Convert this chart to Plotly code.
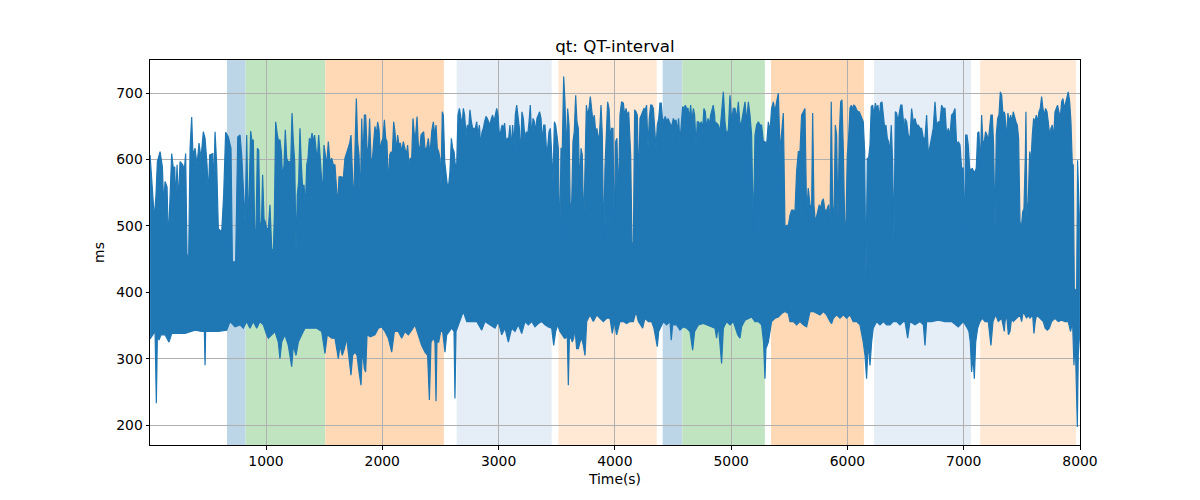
import plotly.graph_objects as go

# Upper edge of the QT-interval trace (time s, ms)
upper_edge = [
    (3,607),(23,554),(40,511),(54,547),(66,597),(89,612),(109,589),(120,532),(132,567),(149,559),(160,479),(169,516),
    (189,609),(203,587),(215,589),(223,537),(235,592),(246,537),(261,597),(284,592),(298,584),(309,609),(321,456),(335,456),
    (347,617),(361,664),(372,607),(390,617),(407,592),(424,625),(441,602),(461,642),(476,632),(493,592),(504,547),(516,607),
    (542,609),(550,557),(562,642),(576,592),(590,496),(619,491),(636,547),(653,641),(676,634),(699,617),(711,446),(739,446),
    (757,634),
    (777,637),(791,607),(820,506),(834,637),(848,496),(868,643),(880,627),(891,630),(903,486),(914,496),(926,617),(937,614),
    (948,506),(960,496),(971,577),(983,511),(994,506),(1006,496),(1020,496),(1034,532),(1049,466),(1063,461),(1072,516),
    (1083,657),(1098,637),(1109,627),(1120,630),(1132,612),(1143,572),(1155,592),(1166,645),(1178,602),(1189,597),(1201,597),
    (1212,592),(1224,670),(1235,627),(1247,597),(1258,461),(1269,547),(1281,567),(1292,647),(1304,592),(1315,557),(1327,562),
    (1338,526),(1350,592),(1361,602),(1373,632),(1384,627),(1396,640),(1407,627),(1418,637),(1430,617),(1441,597),(1453,637),
    (1464,607),(1476,577),(1487,547),(1499,622),(1510,607),(1522,592),(1536,627),(1550,597),(1565,602),(1579,592),
    (1593,592),(1616,532),(1628,574),(1651,574),(1665,572),(1679,602),(1697,612),(1708,617),(1720,625),(1731,637),(1742,567),
    (1754,529),(1765,612),(1777,692),(1788,627),(1800,607),(1811,537),(1823,662),(1834,597),(1846,667),(1857,667),(1869,617),
    (1880,612),(1891,662),(1903,602),(1914,597),(1926,627),(1937,650),(1949,637),(1960,657),(1972,645),(1983,612),(1995,627),
    (2006,632),(2018,660),(2029,632),(2040,627),(2052,562),(2064,607),(2075,612),(2086,607),(2098,657),(2109,642),(2121,612),
    (2132,637),(2144,622),(2155,625),(2167,612),(2181,627),(2195,617),(2207,607),(2218,622),(2230,592),(2241,602),(2253,602),
    (2264,662),(2276,637),(2287,637),(2299,665),(2310,622),(2321,612),(2333,637),(2344,640),(2356,642),(2367,617),(2382,617),
    (2396,632),
    (2410,607),(2425,642),(2439,657),(2451,637),(2462,652),(2473,617),(2485,612),(2496,602),(2505,562),(2516,672),(2525,667),
    (2537,597),(2548,577),(2559,562),(2571,562),(2582,582),(2594,632),(2605,617),(2617,612),(2628,592),(2640,592),(2651,667),
    (2663,677),(2674,662),(2686,652),(2697,677),(2708,667),(2720,637),(2731,652),(2743,647),(2754,675),(2766,657),(2777,647),
    (2789,647),(2800,647),(2812,657),(2823,637),(2835,652),(2846,622),(2858,642),(2869,647),(2880,657),(2892,665),(2903,662),
    (2915,657),(2926,652),(2938,662),(2949,667),(2961,657),(2972,667),(2984,677),(2995,667),(3007,637),(3018,642),(3030,652),
    (3041,647),(3052,655),(3064,627),(3075,632),(3087,632),(3098,652),(3110,617),(3121,652),(3133,622),(3144,667),(3156,682),
    (3167,662),(3179,647),(3190,607),(3201,672),(3213,662),(3224,637),
    (3227,632),(3239,642),(3250,637),(3262,657),(3273,682),(3285,632),(3296,662),(3308,657),(3319,642),(3330,662),(3342,667),
    (3353,672),(3365,662),(3376,627),(3388,652),(3399,652),(3411,617),(3422,617),(3434,642),(3445,647),(3457,607),(3468,567),
    (3480,657),(3491,652),(3502,637),(3514,617),(3525,466),(3537,617),(3548,617),(3560,725),(3571,687),(3583,607),(3594,677),
    (3606,652),(3617,516),(3629,537),(3640,627),(3651,642),(3663,697),(3674,657),(3686,647),(3697,557),(3709,617),(3720,607),
    (3732,496),(3743,567),(3755,682),(3766,667),(3778,677),(3789,695),(3801,670),(3812,657),(3823,667),(3835,642),(3846,647),
    (3858,627),(3869,642),(3881,682),(3892,637),(3904,471),(3915,587),(3927,642),(3938,687),(3950,677),(3961,632),(3972,647),
    (3984,647),(3995,481),(4007,627),(4018,632),(4030,537),(4041,637),
    (4044,667),(4058,687),(4073,685),(4084,667),(4096,677),(4107,667),(4119,672),(4136,607),(4147,476),(4159,471),(4170,675),
    (4182,672),(4193,667),(4205,562),(4216,662),(4228,667),(4239,672),(4250,677),(4262,675),(4273,682),(4285,617),(4296,662),
    (4308,682),(4319,682),(4331,677),(4342,652),(4354,617),(4365,652),(4377,662),(4388,685),(4399,685),(4411,657),(4422,662),
    (4434,665),(4445,657),(4457,662),(4468,657),(4480,652),(4491,652),(4503,662),(4514,657),(4526,660),(4537,642),(4548,662),
    (4560,627),(4571,652),(4583,680),(4594,677),(4606,682),(4617,677),(4629,677),(4640,662),(4652,682),(4663,657),(4675,677),
    (4686,667),(4698,622),(4709,657),(4720,657),(4732,652),(4743,657),(4755,647),(4766,677),(4778,672),(4789,647),(4801,662),
    (4812,652),(4824,667),(4835,677),(4846,682),(4858,667),
    (4861,657),(4875,655),(4890,652),(4904,642),(4918,667),(4933,702),(4947,657),(4961,637),(4976,645),(4990,697),(5004,657),
    (5019,677),(5033,677),(5047,662),(5062,687),(5076,652),(5090,657),(5105,675),(5119,687),(5133,657),(5148,687),(5162,667),
    (5176,637),(5191,491),(5205,637),(5219,652),(5234,657),(5248,652),(5262,652),(5277,627),(5291,627),(5305,622),(5320,657),
    (5334,642),(5348,677),(5363,687),(5377,672),(5391,687),(5406,700),(5420,612),(5434,647),(5449,670),(5463,496),(5477,501),
    (5492,501),(5506,516),(5520,524),(5535,524),(5549,521),(5563,582),(5578,612),(5592,612),(5606,667),(5620,672),(5635,677),
    (5649,516),(5663,557),
    (5678,532),(5692,526),(5701,670),(5712,532),(5724,506),(5735,516),(5747,526),(5758,532),(5770,526),(5781,537),(5793,541),
    (5804,526),(5816,521),(5827,526),(5838,532),(5850,496),(5861,687),(5873,532),(5884,506),(5896,652),(5907,637),(5919,506),
    (5930,637),(5942,687),(5953,690),(5965,612),(5976,506),(5987,501),(5999,607),(6010,632),(6022,677),(6033,682),(6045,677),
    (6056,682),(6068,680),(6079,675),(6091,672),(6102,672),(6114,667),(6125,662),(6136,657),(6148,612),(6159,421),(6171,602),
    (6182,602),(6194,622),(6205,680),(6217,682),(6228,667),(6240,685),(6251,677),(6262,682),(6274,662),(6285,685),(6297,687),
    (6309,667),(6320,647),(6331,652),(6343,632),(6354,627),(6366,612),(6377,652),(6389,592),(6400,476),(6412,672),(6423,670),
    (6435,657),(6446,670),(6458,682),(6469,682),(6480,657),(6492,637),
    (6495,662),(6509,657),(6523,637),(6538,632),(6552,677),(6566,657),(6581,662),(6595,652),(6609,652),(6624,647),(6638,647),
    (6653,632),(6667,632),(6681,667),(6696,607),(6710,622),(6724,637),(6738,647),(6753,687),(6767,652),(6782,657),(6796,657),
    (6810,682),(6824,677),(6839,677),(6853,637),(6867,647),(6882,637),(6896,667),(6910,670),(6925,677),(6939,622),(6953,627),
    (6968,622),(6982,587),(6996,587),(7005,476),(7017,637),(7028,637),(7039,622),(7051,587),(7062,584),(7074,587),(7085,582),
    (7097,582),(7108,587),(7120,640),(7131,642),(7143,587),(7154,667),(7165,627),(7177,627),(7188,642),(7200,637),(7211,627),
    (7223,647),(7234,667),(7246,667),(7257,622),(7269,496),(7280,637),(7292,662),(7303,667),(7315,702),(7326,697),(7338,667),
    (7349,672),
    (7355,667),(7369,632),(7380,670),(7392,657),(7404,667),(7415,657),(7426,672),(7438,662),(7449,657),(7461,652),(7472,632),
    (7484,506),(7495,496),(7507,521),(7518,526),(7530,607),(7535,672),(7544,511),(7555,537),(7567,612),(7578,597),(7590,637),
    (7601,662),(7613,657),(7624,667),(7636,657),(7647,672),(7658,677),(7670,695),(7681,677),(7693,667),(7704,677),(7716,672),
    (7727,657),(7739,637),(7750,647),(7762,652),(7773,632),(7785,672),(7796,677),(7807,682),(7819,672),(7830,662),(7842,687),
    (7853,692),(7865,677),(7876,687),(7888,692),(7899,702),(7911,687),(7922,657),(7934,592),(7942,592),(7951,406),(7971,401),
    (7979,599),(7988,516),(7994,516),
]

# Lower edge of the trace (time s, ms)
lower_edge = [
    (3,330),(29,336),(46,341),(57,233),(66,336),(80,328),(97,336),(132,336),(166,325),(189,338),(246,338),(304,338),
    (390,343),(447,341),(470,341),(476,290),(481,341),(533,341),(590,341),(662,343),(691,356),(734,348),
    (777,351),(805,346),(834,356),(862,346),(891,356),(920,346),(948,356),(977,351),(1006,336),(1020,331),(1049,336),
    (1077,341),(1106,325),(1120,300),(1135,325),(1163,336),(1192,320),(1221,288),(1235,320),(1258,305),(1278,325),
    (1307,336),(1335,346),(1378,346),(1436,346),(1479,341),(1507,308),(1527,336),(1565,331),
    (1593,331),(1608,315),(1622,300),(1636,320),(1656,305),(1674,315),(1694,331),(1714,305),(1731,275),(1745,305),
    (1765,310),(1783,305),(1800,280),(1817,260),(1829,315),(1846,285),(1857,280),(1869,336),(1897,333),(1937,336),
    (1966,346),(1995,348),(2023,341),(2052,331),(2081,310),(2104,341),(2138,341),(2167,331),(2195,341),(2224,336),
    (2253,343),(2281,351),(2310,336),(2339,320),(2367,310),(2390,305),(2405,238),
    (2419,325),(2439,331),(2453,325),(2462,236),(2470,325),(2485,325),(2502,341),(2519,341),(2531,325),(2539,310),
    (2554,336),(2577,341),(2597,346),(2617,341),(2625,240),(2634,341),(2654,351),(2674,361),(2697,371),(2726,356),
    (2769,356),(2812,356),(2855,343),(2883,356),(2926,351),(2969,346),(2998,356),(3027,336),(3055,346),(3084,325),
    (3113,346),(3141,341),(3170,351),(3199,338),
    (3227,356),(3256,351),(3285,356),(3313,348),(3342,353),(3371,356),(3399,351),(3428,348),(3457,346),(3474,320),
    (3491,341),(3508,351),(3528,341),(3548,336),(3566,331),(3577,331),(3591,336),(3600,260),(3609,331),(3623,331),
    (3634,325),(3646,331),(3657,346),(3671,315),(3686,315),(3700,325),(3715,331),(3729,320),(3743,305),(3758,356),
    (3786,366),(3815,356),(3844,366),(3872,361),(3901,356),(3929,361),(3958,361),(3978,338),(3995,356),(4015,336),
    (4044,356),(4073,356),(4101,353),(4130,356),(4159,356),(4182,371),(4202,356),(4222,351),(4239,346),(4259,361),
    (4288,356),(4316,356),(4336,346),(4354,331),(4365,318),(4377,341),(4394,346),(4417,356),(4445,351),(4474,356),
    (4485,328),(4497,351),(4531,351),(4560,343),(4589,348),(4617,346),(4646,341),(4669,313),(4686,341),(4718,351),
    (4761,353),(4804,351),(4832,348),
    (4861,346),(4875,331),(4890,351),(4918,293),(4933,346),(4961,356),(4990,351),(5019,356),(5039,346),(5056,336),
    (5076,331),(5090,348),(5119,358),(5148,361),(5176,363),(5205,356),(5234,356),(5262,351),(5279,325),(5291,270),
    (5299,315),(5320,325),(5348,356),(5377,361),(5406,363),(5434,368),(5463,371),(5492,368),(5506,356),(5535,356),
    (5563,351),(5592,356),(5620,351),(5649,348),
    (5678,371),(5707,371),(5735,368),(5764,366),(5793,371),(5821,366),(5850,356),(5864,353),(5879,361),(5907,366),
    (5936,361),(5965,366),(5993,361),(6022,366),(6050,356),(6079,356),(6108,351),(6122,341),(6136,325),(6151,305),
    (6165,270),(6179,325),(6194,290),(6208,325),(6222,346),(6251,356),(6280,351),(6309,356),(6337,351),(6366,351),
    (6394,356),(6423,356),(6452,351),(6480,356),
    (6495,356),(6518,331),(6538,356),(6581,351),(6624,356),(6653,351),(6667,320),(6681,356),(6724,356),(6782,358),
    (6839,356),(6896,356),(6953,348),(6996,356),(7025,348),(7045,341),(7057,325),(7068,280),(7080,305),(7091,270),
    (7103,325),(7120,346),(7140,356),(7160,361),(7183,356),(7211,356),(7234,320),(7252,356),(7275,366),(7297,356),
    (7326,361),(7349,341),
    (7355,356),(7369,366),(7384,336),(7398,341),(7412,361),(7426,356),(7455,361),(7484,366),(7498,356),(7512,371),
    (7541,361),(7555,366),(7570,361),(7593,366),(7604,338),(7615,356),(7627,366),(7656,361),(7684,356),(7701,346),
    (7719,343),(7736,346),(7756,356),(7784,361),(7813,356),(7842,358),(7871,356),(7899,356),(7919,341),(7936,356),
    (7948,290),(7959,331),(7977,197),(7985,305),(7994,331),
]

# Shaded periods (start s, end s, colour)
span_start = [665, 825, 1510, 2640, 3514, 4411, 4580, 5343, 6228, 7142]
span_end = [825, 1510, 2530, 3457, 4360, 4580, 5290, 6142, 7062, 7966]
span_color = ["rgb(188,214,232)", "rgb(192,227,192)", "rgb(255,217,182)", "rgb(229,237,246)", "rgb(255,233,213)",
              "rgb(188,214,232)", "rgb(192,227,192)", "rgb(255,217,182)", "rgb(229,237,246)", "rgb(255,233,213)"]

x_ticks = [1000, 2000, 3000, 4000, 5000, 6000, 7000, 8000]
y_ticks = [200, 300, 400, 500, 600, 700]

poly_x = [p[0] for p in upper_edge] + [p[0] for p in reversed(lower_edge)]
poly_y = [p[1] for p in upper_edge] + [p[1] for p in reversed(lower_edge)]

fig = go.Figure()
fig.add_trace(go.Scatter(x=poly_x, y=poly_y, mode="lines", fill="toself",
                         fillcolor="#1f77b4", line=dict(color="#1f77b4", width=1.2),
                         hoverinfo="skip", showlegend=False))

for s, e, c in zip(span_start, span_end, span_color):
    fig.add_shape(type="rect", xref="x", yref="paper", x0=s, x1=e, y0=0, y1=1,
                  fillcolor=c, line=dict(width=0), layer="below")

font = dict(family="DejaVu Sans", size=13.9, color="black")
axis_common = dict(showgrid=True, gridcolor="#b0b0b0", gridwidth=0.8, showline=True, linecolor="black",
                   linewidth=1, mirror=True, ticks="outside", ticklen=3.5, tickwidth=0.8, tickcolor="black",
                   zeroline=False, tickfont=font)

# page body adds an 8px offset; size the figure so the plot area lands where the reference has it
fig.update_layout(
    width=1192, height=492,
    margin=dict(l=142, r=120, t=52, b=55),
    paper_bgcolor="white", plot_bgcolor="white",
    title=dict(text="qt: QT-interval", x=0.5, xref="paper", xanchor="center",
               y=1 - 38 / 492, yref="container", yanchor="middle",
               font=dict(family="DejaVu Sans", size=16.7, color="black")),
    xaxis=dict(range=[2.5, 8000], tickvals=x_ticks,
               title=dict(text="Time(s)", font=font, standoff=6), **axis_common),
    yaxis=dict(range=[170, 750], tickvals=y_ticks,
               title=dict(text="ms", font=font, standoff=8), **axis_common),
)

fig.write_html("out.html")
